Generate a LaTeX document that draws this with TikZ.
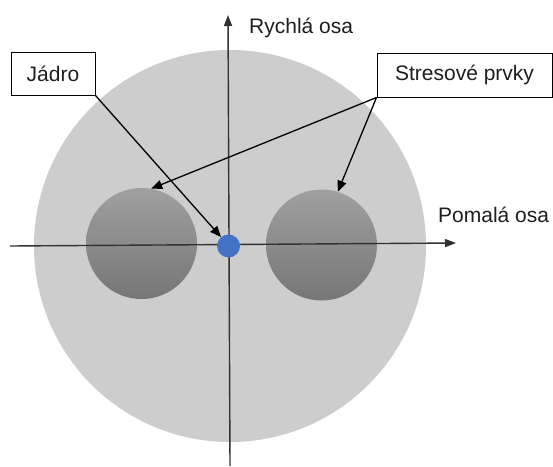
\documentclass[tikz,border=0pt]{standalone}
\usepackage{fontspec}
\setmainfont{Liberation Sans}
\usetikzlibrary{arrows.meta}
\definecolor{bigfill}{RGB}{205,205,205}
\definecolor{smalltop}{RGB}{160,160,160}
\definecolor{smallbot}{RGB}{118,118,118}
\definecolor{coreblue}{RGB}{68,114,196}
\definecolor{axiscol}{RGB}{50,50,50}
\definecolor{txt}{RGB}{30,30,30}
\tikzset{
  lbl/.style={font=\fontsize{21}{25}\selectfont, text=txt, inner sep=0pt},
  callout/.style={draw=black, line width=1pt, fill=white, inner sep=0pt,
    font=\fontsize{21}{25}\selectfont, text=txt},
  axisline/.style={draw=axiscol, line width=1.4pt, -{Triangle[length=11pt,width=8pt]}},
  pointer/.style={draw=black, line width=1.3pt, -{Triangle[length=11pt,width=9pt]}},
  stress/.style={circle, minimum size=111pt, inner sep=0pt, top color=smalltop, bottom color=smallbot, shading angle=0}
}
\begin{document}
\begin{tikzpicture}[x=1pt,y=-1pt]
\useasboundingbox (0,0) rectangle (553,466);
% fibre cladding
\node[circle, minimum size=392pt, inner sep=0pt, fill=bigfill] (clad) at (230,246) {};
% stress elements
\node[stress] (lc) at (141.5,243.5) {};
\node[stress] (rc) at (321.5,245) {};
% axes
\coordinate (vbot) at (230,466);
\coordinate (vtop) at (228,15);
\coordinate (hleft) at (10,246);
\coordinate (hright) at (456,243);
\draw[axisline] (vbot) -- (vtop);
\draw[axisline] (hleft) -- (hright);
% core
\node[circle, minimum size=23pt, inner sep=0pt, fill=coreblue] (core) at (228.5,246) {};
% labels
\node[lbl, anchor=base west] (fast) at (249,33) {Rychlá osa};
\node[lbl, anchor=base west] (slow) at (438,222) {Pomalá osa};
\node[callout, minimum width=84pt, minimum height=43pt] (jadro) at (53,73.5) {Jádro};
\node[callout, minimum width=175pt, minimum height=44pt] (stres) at (464.5,75) {Stresové prvky};
% pointers
\draw[pointer] (jadro.south east) -- (core.130);
\draw[pointer] (stres.south west) -- (lc.80);
\draw[pointer] (stres.south west) -- (rc.73);
\end{tikzpicture}
\end{document}
